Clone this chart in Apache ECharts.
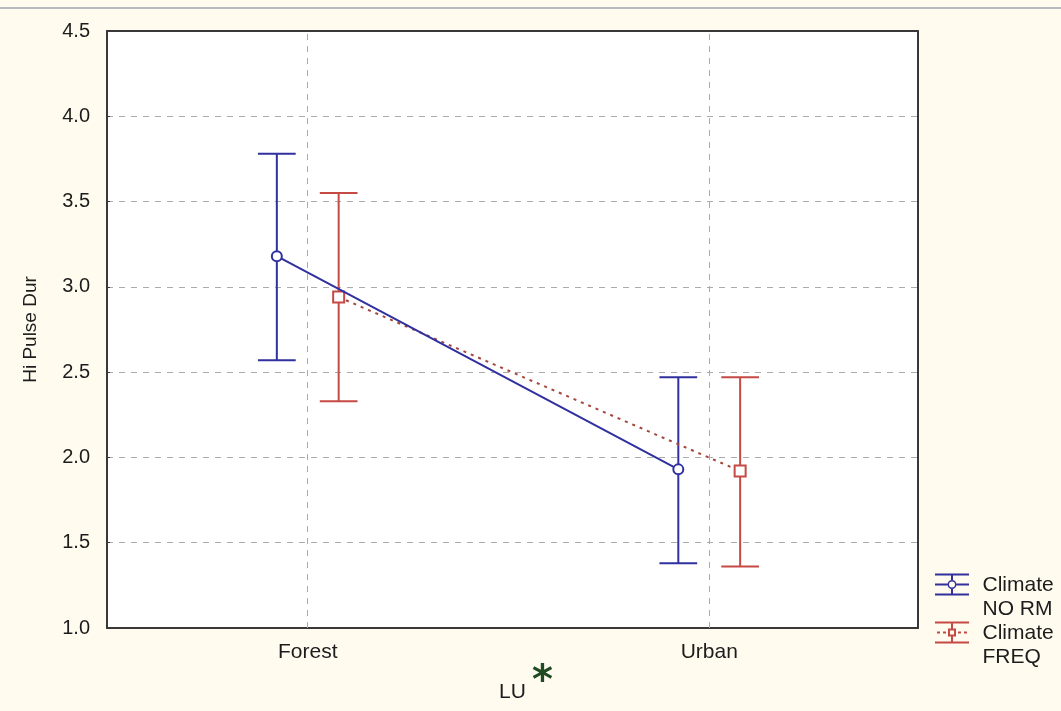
<!DOCTYPE html>
<html>
<head>
<meta charset="utf-8">
<title>Hi Pulse Dur by LU</title>
<script src="https://cdn.jsdelivr.net/npm/echarts@6/dist/echarts.min.js"></script>
<style>
  html, body { margin: 0; padding: 0; background: #fffbef; }
  #chart { width: 1061px; height: 711px; }
</style>
</head>
<body>
<div id="chart"></div>
<script>
// Land-use categories on the x axis (positions 1 and 2)
const categories = ['Forest', 'Urban'];

// Climate NORM: means and confidence limits
const normMean  = [3.18, 1.93];
const normUpper = [3.78, 2.47];
const normLower = [2.57, 1.38];

// Climate FREQ: means and confidence limits
const freqMean  = [2.94, 1.92];
const freqUpper = [3.55, 2.47];
const freqLower = [2.33, 1.36];

// Y axis tick values
const yTicks = [1.0, 1.5, 2.0, 2.5, 3.0, 3.5, 4.0, 4.5];

const seriesNames = ['Climate\nNO RM', 'Climate\nFREQ'];

// Layout constants: horizontal dodge of the two groups and cap half-width (x units)
const DODGE = 0.077;
const CAP = 0.047;

const BLUE = '#30309e';
const RED = '#c64a44';
const FONT = 'Liberation Sans';
const TEXT = '#1c1c1c';

function pointsFor(means, offset) {
  return means.map((m, i) => [i + 1 + offset, m]);
}
function barsFor(lower, upper, offset) {
  return lower.map((lo, i) => [i + 1 + offset, lo, upper[i]]);
}

function errorBarRenderer(color) {
  return function (params, api) {
    const x = api.value(0);
    const lo = api.coord([x, api.value(1)]);
    const hi = api.coord([x, api.value(2)]);
    const capL = api.coord([x - CAP, api.value(1)])[0];
    const capR = api.coord([x + CAP, api.value(1)])[0];
    const style = { stroke: color, lineWidth: 2, fill: null };
    return {
      type: 'group',
      children: [
        { type: 'line', shape: { x1: lo[0], y1: lo[1], x2: hi[0], y2: hi[1] }, style },
        { type: 'line', shape: { x1: capL, y1: hi[1], x2: capR, y2: hi[1] }, style },
        { type: 'line', shape: { x1: capL, y1: lo[1], x2: capR, y2: lo[1] }, style }
      ]
    };
  };
}

// Legend icons: error bar with the mean marker on a short line.
// The trailing zero-length segment reserves space below so the icon sits beside the first text line.
const iconNorm = 'path://M1,0H35V2H1Z M1,20H35V22H1Z M17,2H19V6.5H17Z M17,15.5H19V20H17Z ' +
  'M1,10H13.5V12H1Z M22.5,10H35V12H22.5Z ' +
  'M22.5,11A4.5,4.5 0 1 0 13.5,11A4.5,4.5 0 1 0 22.5,11Z M21,11A3,3 0 1 1 15,11A3,3 0 1 1 21,11Z ' +
  'M0,47L0,47';
const iconFreq = 'path://M1,0H35V2H1Z M1,20H35V22H1Z M17,2H19V7H17Z M17,15H19V20H17Z ' +
  'M3,10H6V12H3Z M9,10H12V12H9Z M24,10H27V12H24Z M30,10H33V12H30Z ' +
  'M14,7H22V15H14Z M16,9V13H20V9Z ' +
  'M0,47L0,47';

const chart = echarts.init(document.getElementById('chart'));

const frameLine = { show: true, lineStyle: { color: '#383838', width: 2 } };

chart.setOption({
  backgroundColor: '#fffbef',
  animation: false,
  grid: {
    left: 107, top: 31, right: 143, bottom: 83,
    show: true, backgroundColor: '#ffffff', borderWidth: 0
  },
  xAxis: [
    {
      type: 'value',
      min: 0.5, max: 2.52, interval: 0.5,
      name: 'LU',
      nameLocation: 'middle',
      nameGap: 54,
      nameTextStyle: { fontFamily: FONT, fontSize: 21, color: TEXT },
      axisLine: frameLine,
      axisTick: { show: false },
      splitLine: { show: false },
      axisLabel: {
        margin: 14,
        fontFamily: FONT, fontSize: 21, color: TEXT,
        formatter: v => (Number.isInteger(v) && categories[v - 1]) ? categories[v - 1] : ''
      }
    },
    {
      type: 'value', position: 'top',
      min: 0.5, max: 2.52, interval: 0.5,
      axisLine: frameLine, axisTick: { show: false }, axisLabel: { show: false },
      splitLine: { show: false }
    }
  ],
  yAxis: [
    {
      type: 'value',
      min: yTicks[0], max: yTicks[yTicks.length - 1], interval: 0.5,
      name: 'Hi Pulse Dur',
      nameLocation: 'middle',
      nameGap: 67,
      nameTextStyle: { fontFamily: FONT, fontSize: 19, color: TEXT },
      axisLine: frameLine,
      axisTick: { show: true, inside: true, length: 3, lineStyle: { color: '#383838' } },
      axisLabel: {
        margin: 17,
        fontFamily: FONT, fontSize: 20, color: TEXT,
        formatter: v => v.toFixed(1)
      },
      splitLine: { show: true, lineStyle: { color: '#ababab', type: [6, 6], width: 1 } }
    },
    {
      type: 'value', position: 'right',
      min: yTicks[0], max: yTicks[yTicks.length - 1], interval: 0.5,
      axisLine: frameLine, axisTick: { show: false }, axisLabel: { show: false },
      splitLine: { show: false }
    }
  ],
  legend: {
    orient: 'vertical',
    left: 929, top: 568,
    itemWidth: 36, itemHeight: 47,
    itemGap: 0,
    textStyle: { fontFamily: FONT, fontSize: 21, color: TEXT, lineHeight: 24, padding: [0, 0, 0, 8] },
    data: [
      { name: seriesNames[0], icon: iconNorm, itemStyle: { color: BLUE, borderWidth: 0 } },
      { name: seriesNames[1], icon: iconFreq, itemStyle: { color: RED, borderWidth: 0 } }
    ]
  },
  graphic: [
    { type: 'line', shape: { x1: 0, y1: 8, x2: 1061, y2: 8 }, style: { stroke: '#9aa6ad', lineWidth: 1.5 } },
    {
      type: 'text', left: 532, top: 663,
      style: { text: '*', fill: '#1f4a22', font: 'bold 40px "DejaVu Sans"' }
    }
  ],
  series: [
    {
      name: seriesNames[0] + ' bars',
      type: 'custom',
      renderItem: errorBarRenderer(BLUE),
      data: barsFor(normLower, normUpper, -DODGE),
      z: 2,
      markLine: {
        silent: true,
        symbol: 'none',
        label: { show: false },
        lineStyle: { color: '#ababab', type: [6, 6], width: 1 },
        data: categories.map((c, i) => ({ xAxis: i + 1 }))
      }
    },
    {
      name: seriesNames[1] + ' bars',
      type: 'custom',
      renderItem: errorBarRenderer(RED),
      data: barsFor(freqLower, freqUpper, DODGE),
      z: 2
    },
    {
      name: seriesNames[1],
      type: 'line',
      data: pointsFor(freqMean, DODGE),
      symbol: 'rect',
      symbolSize: 11,
      lineStyle: { color: '#a5463c', width: 2, type: [3, 5] },
      itemStyle: { color: '#ffffff', borderColor: RED, borderWidth: 2 },
      z: 3
    },
    {
      name: seriesNames[0],
      type: 'line',
      data: pointsFor(normMean, -DODGE),
      symbol: 'circle',
      symbolSize: 10,
      lineStyle: { color: BLUE, width: 2 },
      itemStyle: { color: '#ffffff', borderColor: BLUE, borderWidth: 2 },
      z: 4
    }
  ]
});
</script>
</body>
</html>
